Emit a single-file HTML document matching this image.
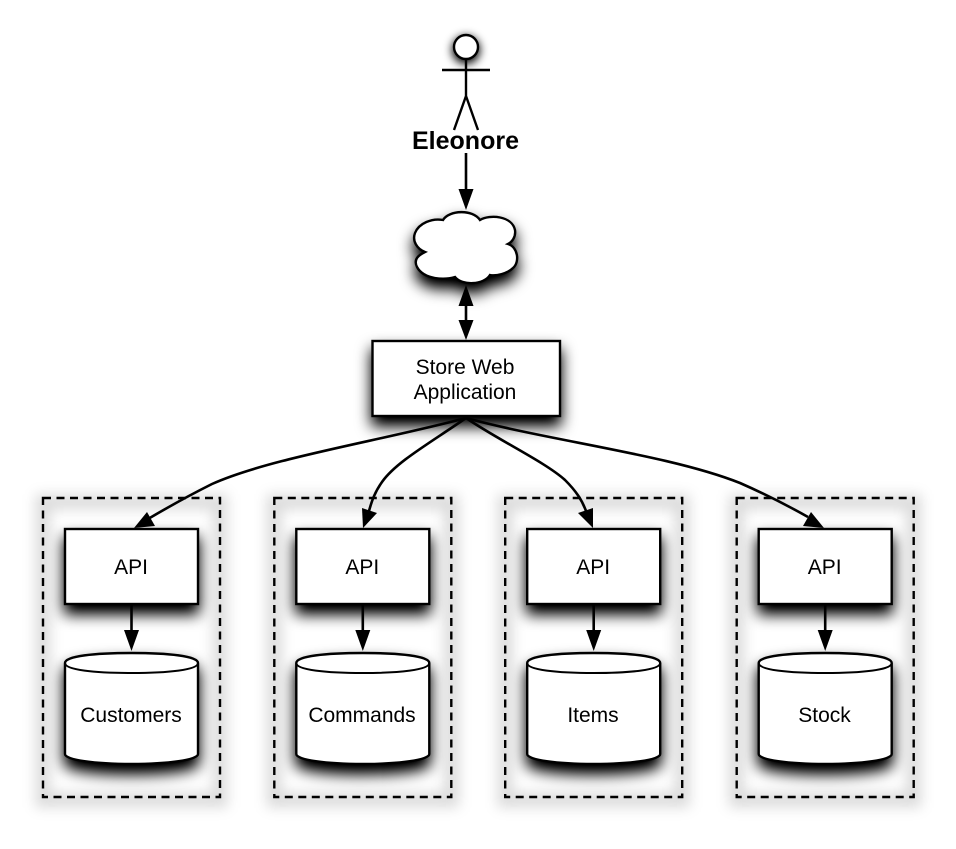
<!DOCTYPE html>
<html><head><meta charset="utf-8">
<style>
html,body{margin:0;padding:0;background:#fff}
svg{display:block}
text{font-family:"Liberation Sans",sans-serif;fill:#000;text-anchor:middle}
</style></head>
<body>
<svg width="956" height="849" viewBox="0 0 956 849" xmlns="http://www.w3.org/2000/svg">
<defs>
<filter id="sh" x="-30%" y="-30%" width="160%" height="170%">
<feGaussianBlur in="SourceAlpha" stdDeviation="7.500" result="b"/>
<feOffset in="b" dy="9" result="o"/>
<feComponentTransfer in="o" result="d"><feFuncA type="linear" slope="1.1"/></feComponentTransfer>
<feMerge><feMergeNode in="d"/><feMergeNode in="SourceGraphic"/></feMerge>
</filter>
<filter id="glow" x="-20%" y="-20%" width="140%" height="140%">
<feGaussianBlur stdDeviation="6.500"/>
</filter>
<filter id="blur5" x="-100%" y="-100%" width="300%" height="300%">
<feGaussianBlur stdDeviation="4.500"/>
</filter>
<g id="col">
<rect x="43" y="502" width="177" height="298" fill="none" stroke="#000" stroke-opacity=".14" stroke-width="15" filter="url(#glow)"/>
<rect x="43" y="498" width="177" height="299" fill="none" stroke="#000" stroke-width="2.400" stroke-dasharray="8 5.500"/>
<rect x="65" y="529" width="133" height="75" fill="#fff" stroke="#000" stroke-width="2.400" filter="url(#sh)"/>
<path d="M65 663 C65 656 95 653 131.500 653 C168 653 198 656 198 663 L198 754 C198 760 168 764 131.500 764 C95 764 65 760 65 754 Z" fill="#fff" stroke="#000" stroke-width="2.400" filter="url(#sh)"/>
<path d="M65 663 C65 670 95 673 131.500 673 C168 673 198 670 198 663" fill="none" stroke="#000" stroke-width="2"/>
<path d="M131.500 604 L131.500 632" stroke="#000" stroke-width="2.600" fill="none"/>
<path d="M124 630 L139 630 L131.500 651 Z" fill="#000"/>
<text x="131" y="574" font-size="21">API</text>
</g>
</defs>

<use href="#col"/>
<use href="#col" x="231.300"/>
<use href="#col" x="462.200"/>
<use href="#col" x="693.700"/>

<text x="131" y="722" font-size="21">Customers</text>
<text x="362" y="722" font-size="21">Commands</text>
<text x="593" y="722" font-size="21">Items</text>
<text x="824.500" y="722" font-size="21">Stock</text>

<!-- actor -->
<ellipse cx="466" cy="50" rx="14" ry="14" fill="#000" filter="url(#blur5)"/>
<circle cx="466" cy="47" r="12" fill="#fff" stroke="#000" stroke-width="2.400"/>
<path d="M466 59 L466 96 M442 70 L490 70 M466 96 L454 130 M466 96 L478 130" fill="none" stroke="#000" stroke-width="2.400"/>
<text x="465.500" y="149" font-size="25" font-weight="bold">Eleonore</text>

<path d="M466 153 L466 192" stroke="#000" stroke-width="2.600" fill="none"/>
<path d="M458.500 189 L473.500 189 L466 210 Z" fill="#000"/>

<!-- cloud -->
<path d="M443 220 C449 210 473 209 480 220 C490 214 512 216 515 230 C516 237 512 242 508 244 C518 247 520 262 513 268 C507 274 496 276 490 275 C484 285 462 286 455 277 C445 280 424 280 417 267 C413 259 419 255 425 252 C417 249 412 241 415 233 C419 223 432 218 443 220 Z" fill="#fff" stroke="#000" stroke-width="2.400" filter="url(#sh)"/>

<!-- double arrow -->
<path d="M466 304 L466 322" stroke="#000" stroke-width="2.600" fill="none"/>
<path d="M458.500 306 L473.500 306 L466 285 Z" fill="#000"/>
<path d="M458.500 320 L473.500 320 L466 340 Z" fill="#000"/>

<!-- store web app -->
<rect x="372.500" y="341" width="187.500" height="75" fill="#fff" stroke="#000" stroke-width="2.400" filter="url(#sh)"/>
<text x="465" y="374" font-size="21">Store Web</text>
<text x="465" y="399" font-size="21">Application</text>

<!-- curves -->
<g fill="none" stroke="#000" stroke-width="2.600">
<path d="M466 418 C380 441 270 458 212 484 C190 495 170 506 148 519"/>
<path d="M466 418 C430 443 396 462 382 482 C375 492 372 500 369 511"/>
<path d="M466 418 C500 441 545 462 565 480 C576 491 582 500 586 511"/>
<path d="M466 418 C550 441 670 455 740 483 C765 494 785 504 808 517"/>
</g>
<path d="M134 528 L147 512 L155 526 Z" fill="#000"/>
<path d="M363 528 L362 508 L377 513 Z" fill="#000"/>
<path d="M593 528 L578 513 L593 508 Z" fill="#000"/>
<path d="M824 528 L803 526 L811 512 Z" fill="#000"/>
</svg>
</body></html>
